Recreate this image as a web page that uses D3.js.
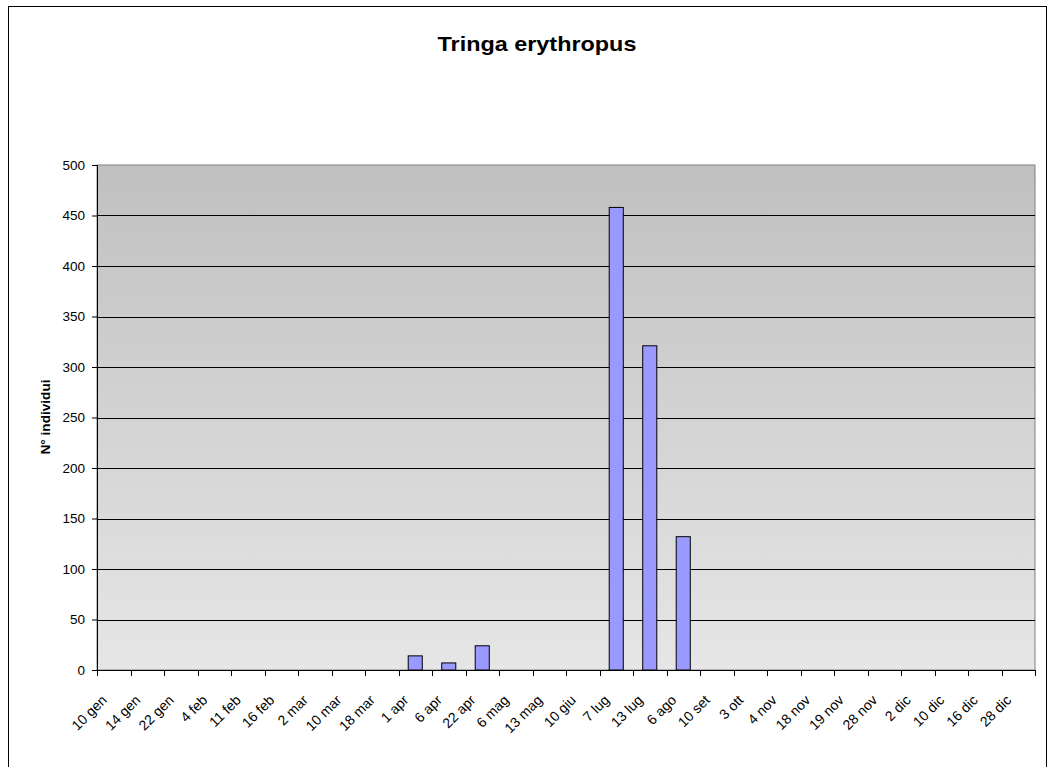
<!DOCTYPE html>
<html>
<head>
<meta charset="utf-8">
<script src="https://cdn.jsdelivr.net/npm/d3@7"></script>
<style>
  body { margin: 0; background: #fff; }
  text { font-family: "Liberation Sans", Arial, sans-serif; fill: #000; }
</style>
</head>
<body>
<script>
// chart data
var dates = ["10 gen", "14 gen", "22 gen", "4 feb", "11 feb", "16 feb", "2 mar", "10 mar", "18 mar",
    "1 apr", "6 apr", "22 apr", "6 mag", "13 mag", "10 giu", "7 lug", "13 lug", "6 ago", "10 set",
    "3 ott", "4 nov", "18 nov", "19 nov", "28 nov", "2 dic", "10 dic", "16 dic", "28 dic"];
var counts = [0, 0, 0, 0, 0, 0, 0, 0, 0,
    14, 7, 24, 0, 0, 0, 458, 321, 132, 0,
    0, 0, 0, 0, 0, 0, 0, 0, 0];
var yTicks = [0, 50, 100, 150, 200, 250, 300, 350, 400, 450, 500];

var W = 1052, H = 767;
var margin = {top: 165, right: 17, bottom: 97, left: 97},
    width = W - margin.left - margin.right,
    height = H - margin.top - margin.bottom;

var svg = d3.select("body").append("svg")
    .attr("width", W)
    .attr("height", H);

// outer frame
svg.append("rect")
    .attr("x", 8.5).attr("y", 6.5)
    .attr("width", 1038).attr("height", 780)
    .attr("fill", "none")
    .attr("stroke", "#000")
    .attr("stroke-width", 1);

// background gradient
var grad = svg.append("defs").append("linearGradient")
    .attr("id", "bg")
    .attr("x1", 0).attr("y1", 0).attr("x2", 0).attr("y2", 1);
grad.append("stop").attr("offset", "0%").attr("stop-color", "#c0c0c0");
grad.append("stop").attr("offset", "100%").attr("stop-color", "#e6e6e6");

var g = svg.append("g")
    .attr("transform", "translate(" + margin.left + "," + margin.top + ")");

var x = d3.scaleBand()
    .domain(dates)
    .range([0, width]);

var y = d3.scaleLinear()
    .domain([0, 500])
    .range([height, 0]);

g.append("rect")
    .attr("width", width)
    .attr("height", height)
    .attr("fill", "url(#bg)")
    .attr("stroke", "#808080")
    .attr("stroke-width", 1);

// gridlines
g.selectAll(".grid")
    .data(yTicks.filter(d => d > 0 && d < 500))
    .join("line")
    .attr("class", "grid")
    .attr("x1", 0).attr("x2", width)
    .attr("y1", d => Math.round(y(d)) + 0.5)
    .attr("y2", d => Math.round(y(d)) + 0.5)
    .attr("stroke", "#000")
    .attr("stroke-width", 1);

// bars
var bw = x.bandwidth() * 0.42;
g.selectAll(".bar")
    .data(dates.map((d, i) => ({date: d, v: counts[i]})).filter(d => d.v > 0))
    .join("rect")
    .attr("class", "bar")
    .attr("x", d => x(d.date) + (x.bandwidth() - bw) / 2)
    .attr("y", d => y(d.v))
    .attr("width", bw)
    .attr("height", d => height - y(d.v))
    .attr("fill", "#9999ff")
    .attr("stroke", "#000")
    .attr("stroke-width", 1);

// y axis
var yAxis = g.append("g")
    .call(d3.axisLeft(y).tickValues(yTicks).tickSize(5).tickPadding(7));
yAxis.select(".domain").attr("stroke", "#000");
yAxis.selectAll(".tick line").attr("stroke", "#000");
yAxis.selectAll("text")
    .attr("font-size", 13.5)
    .attr("font-family", "Liberation Sans, Arial, sans-serif")
    .attr("fill", "#000");

// x axis: ticks at category boundaries
var xg = g.append("g").attr("transform", "translate(0," + height + ")");
xg.append("line")
    .attr("x1", 0).attr("x2", width)
    .attr("y1", 0.5).attr("y2", 0.5)
    .attr("stroke", "#000");
xg.selectAll(".tick")
    .data(d3.range(dates.length + 1))
    .join("line")
    .attr("class", "tick")
    .attr("x1", i => Math.round(i * x.step()) + 0.5)
    .attr("x2", i => Math.round(i * x.step()) + 0.5)
    .attr("y1", 0).attr("y2", 6)
    .attr("stroke", "#000");
xg.selectAll(".lbl")
    .data(dates)
    .join("text")
    .attr("class", "lbl")
    .attr("transform", d => "translate(" + (x(d) + x.bandwidth() / 2 - 6) + ",31) rotate(-45)")
    .attr("text-anchor", "end")
    .attr("font-size", 14)
    .text(d => d);

// title
svg.append("text")
    .attr("transform", "translate(537,51) scale(1.17,1)")
    .attr("text-anchor", "middle")
    .attr("font-size", 20)
    .attr("font-weight", "bold")
    .text("Tringa erythropus");

// y label
svg.append("text")
    .attr("transform", "translate(50,417) rotate(-90) scale(1.09,1)")
    .attr("text-anchor", "middle")
    .attr("font-size", 12.5)
    .attr("font-weight", "bold")
    .text("N° individui");
</script>
</body>
</html>
